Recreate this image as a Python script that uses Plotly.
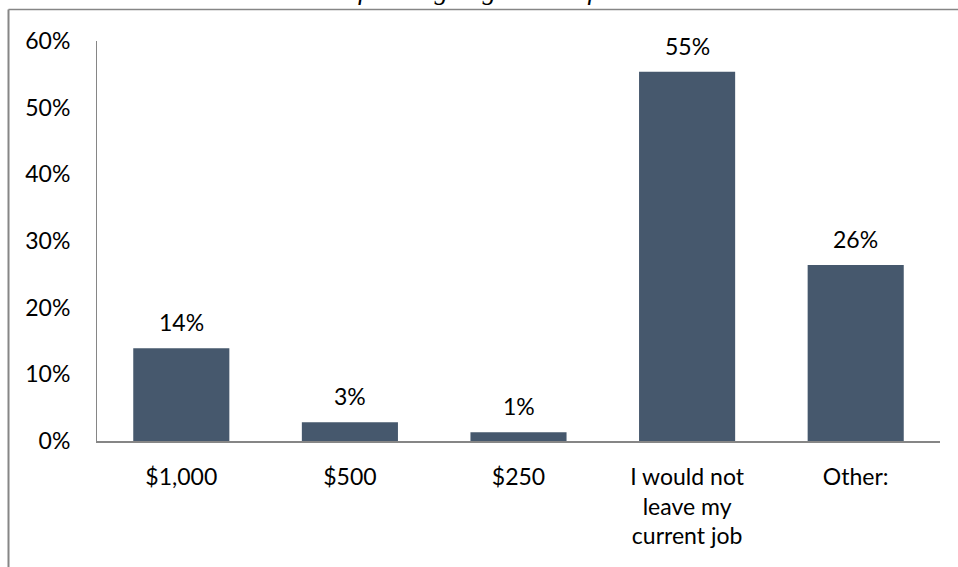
import plotly.graph_objects as go

# Survey responses: share of respondents per bonus amount
categories = ["$1,000", "$500", "$250", "I would not leave my current job", "Other:"]
tick_labels = ["$1,000", "$500", "$250", "I would not<br>leave my<br>current job", "Other:"]
shares = [0.139, 0.028, 0.013, 0.554, 0.264]
y_ticks = [0.0, 0.1, 0.2, 0.3, 0.4, 0.5, 0.6]
title_text = "for a signing bonus of…"

W, H = 958, 567
M_L, M_R, M_T, M_B = 97, 18, 41, 126
PW, PH = W - M_L - M_R, H - M_T - M_B

BAR = "#46586D"
AXIS = "#868686"
FONT = "Lato, 'Open Sans', sans-serif"
FS = 23


def px_x(p):
    return (p - M_L) / PW


def px_y(p):
    return (H - M_B - p) / PH


fig = go.Figure(
    go.Bar(
        x=categories,
        y=shares,
        width=0.57,
        marker=dict(color=BAR, line=dict(width=0)),
        hoverinfo="skip",
    )
)

# value labels above each bar
for c, v in zip(categories, shares):
    fig.add_annotation(
        x=c, y=v, xref="x", yref="y",
        text=f"{v * 100:.0f}%",
        showarrow=False, yanchor="bottom", yshift=10,
        font=dict(family=FONT, size=FS, color="#000000"),
    )

# heading at the very top, mostly above the page edge
fig.add_annotation(
    x=px_x(488), y=px_y(6), xref="paper", yref="paper",
    text=f"<i>{title_text}</i>",
    showarrow=False, xanchor="center", yanchor="bottom", borderpad=0,
    font=dict(family="'Liberation Serif', 'DejaVu Serif', serif", size=27, color="#000000"),
)

# outer chart frame (top and left edges)
fig.add_shape(type="line", xref="paper", yref="paper",
              x0=px_x(8.5), x1=px_x(960), y0=px_y(9.5), y1=px_y(9.5),
              line=dict(color=AXIS, width=1.5))
fig.add_shape(type="line", xref="paper", yref="paper",
              x0=px_x(8.5), x1=px_x(8.5), y0=px_y(9.5), y1=px_y(570),
              line=dict(color=AXIS, width=2))

fig.update_layout(
    width=W, height=H,
    margin=dict(l=M_L, r=M_R, t=M_T, b=M_B, pad=0),
    paper_bgcolor="white", plot_bgcolor="white",
    showlegend=False, bargap=0.43,
    font=dict(family=FONT, size=FS, color="#000000"),
)
fig.update_xaxes(
    type="category",
    tickvals=categories, ticktext=tick_labels,
    showline=True, linecolor=AXIS, linewidth=2,
    ticks="", showgrid=False, zeroline=False,
    ticklabelstandoff=14,
    tickfont=dict(family=FONT, size=FS, color="#000000"),
)
fig.update_yaxes(
    range=[0, 0.6], tickvals=y_ticks, tickformat=".0%",
    showline=True, linecolor=AXIS, linewidth=1,
    ticks="", showgrid=False, zeroline=False,
    ticklabelstandoff=21,
    tickfont=dict(family=FONT, size=FS, color="#000000"),
)

fig.write_html("out.html")
